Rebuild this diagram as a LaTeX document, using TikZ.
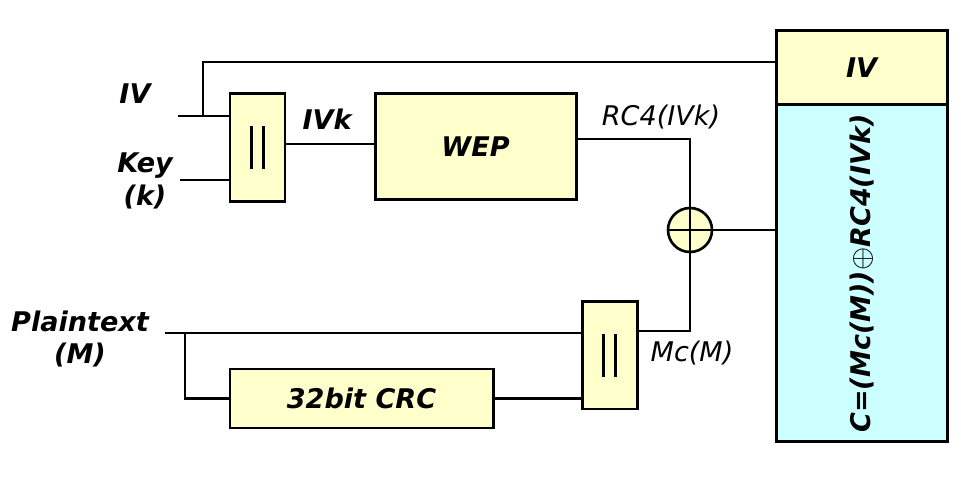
\documentclass[tikz,border=0pt]{standalone}
\usepackage{fontspec}
\setmainfont{DejaVu Sans}
\usepackage{graphicx}
\definecolor{blkyellow}{HTML}{FFFFCC}
\definecolor{blkblue}{HTML}{CCFFFF}
\newcommand{\lblfont}{\fontsize{7.7}{9.2}\selectfont}
\newcommand{\catbars}{\rule{0.8pt}{4.3mm}\hspace{0.85mm}\rule{0.8pt}{4.3mm}}
\tikzset{
    wire/.style = {line width=0.75pt,draw=black},
    blk/.style = {rectangle, line width=0.85pt, draw=black, fill=blkyellow, inner sep=0pt, font=\lblfont\bfseries\itshape},
    catblk/.style = {blk, minimum width=0.55cm, minimum height=1.08cm},
    xornode/.style = {circle, line width=0.75pt, draw=black, fill=blkyellow, minimum size=0.44cm, inner sep=0pt,
      path picture={\draw[line width=0.75pt] (path picture bounding box.north) -- (path picture bounding box.south)
                                            (path picture bounding box.west) -- (path picture bounding box.east);}},
    lbl/.style = {align=center, inner sep=0pt, font=\lblfont\bfseries\itshape},
    lbln/.style = {align=center, inner sep=0pt, font=\lblfont\itshape}
}
\begin{document}
\begin{tikzpicture}[x=0.1mm, y=-0.1mm]
  \useasboundingbox (0,0) rectangle (961,477);

  % blocks
  \node[catblk] (cat1) at (257.5,147.5) {\catbars};
  \node[blk, minimum width=2.01cm, minimum height=1.06cm] (wep) at (475.5,147) {WEP};
  \node[xornode] (xor) at (690,230) {};
  \node[catblk, minimum height=1.07cm] (cat2) at (609.5,355.5) {\catbars};
  \node[blk, minimum width=2.63cm, minimum height=0.59cm] (crc) at (361.5,398.5) {32bit CRC};
  \node[blk, minimum width=1.71cm, minimum height=0.74cm] (ivtop) at (861.5,68) {IV};
  \node[blk, fill=blkblue, minimum width=1.71cm, minimum height=3.37cm] (cbody) at (861.5,273.5)
    {\rotatebox{90}{C=(Mc(M))$\oplus$RC4(IVk)}};

  % labels
  \node[lbl] (ivlbl) at (135,94) {IV};
  \node[lbl] (keylbl) at (145,181) {Key\\(k)};
  \node[lbl] (ivklbl) at (327,119) {IVk};
  \node[lbln] (rc4lbl) at (661,117) {RC4(IVk)};
  \node[lbln] (mclbl) at (692,353) {Mc(M)};
  \node[lbl] (ptlbl) at (80,339) {Plaintext\\(M)};

  \coordinate (ivin) at (178,116);
  \coordinate (ivsplit) at (203,116);
  \coordinate (keyin) at (180,180);
  \coordinate (ptin) at (165,333);
  \coordinate (ptsplit) at (185,333);

  % wires
  \draw[wire] (ivin) -- (ivin -| cat1.west);
  \draw[wire] (keyin) -- (keyin -| cat1.west);
  \draw[wire] (ivsplit) |- ([yshift=0.6mm]ivtop.west);
  \draw[wire] ([yshift=0.35mm]cat1.east) -- ([yshift=0.35mm]cat1.east -| wep.west);
  \draw[wire] ([yshift=0.8mm]wep.east) -| (xor.north);
  \draw[wire] (xor.east) -- (xor.east -| cbody.west);
  \draw[wire] (xor.south) |- ([yshift=2.45mm]cat2.east);
  \draw[wire] (ptin) -- (ptin -| cat2.west);
  \draw[wire] (ptsplit) |- (crc.west);
  \draw[wire] (crc.east) -- (crc.east -| cat2.west);
\end{tikzpicture}
\end{document}
